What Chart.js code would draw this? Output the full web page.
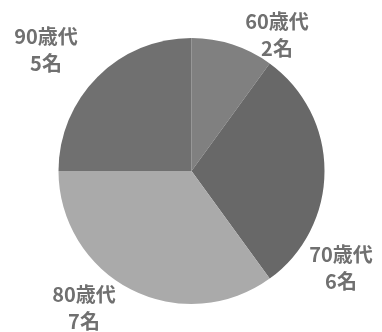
<!DOCTYPE html>
<html><head><meta charset="utf-8">
<script src="https://cdn.jsdelivr.net/npm/chart.js@4"></script>
<style>html,body{margin:0;padding:0;background:#fff;}#w{width:382px;height:332px;}</style>
</head><body><div id="w"><canvas id="c"></canvas></div>
<script>
const categories = ['60歳代', '70歳代', '80歳代', '90歳代'];
const counts = [2, 6, 7, 5];
const countLabels = ['2名', '6名', '7名', '5名'];
const sliceColors = ['#808080', '#686868', '#aaaaaa', '#707070'];
const labelSpots = [[277, 21], [341, 254], [84, 294], [46, 36]];

const labelPlugin = {
  id: 'sliceLabels',
  afterDraw(chart) {
    const ctx = chart.ctx;
    ctx.save();
    ctx.font = 'bold 20px "Noto Sans CJK JP", sans-serif';
    ctx.fillStyle = '#707070';
    ctx.textAlign = 'center';
    ctx.textBaseline = 'middle';
    categories.forEach((c, i) => {
      const [x, y] = labelSpots[i];
      ctx.fillText(c, x, y);
      ctx.fillText(countLabels[i], x, y + 27);
    });
    ctx.restore();
  }
};

new Chart(document.getElementById('c'), {
  type: 'pie',
  data: { labels: categories, datasets: [{ data: counts, backgroundColor: sliceColors, borderWidth: 0 }] },
  options: {
    responsive: true, maintainAspectRatio: false, animation: false,
    layout: { padding: { top: 38, bottom: 28, left: 58, right: 57 } },
    plugins: { legend: { display: false }, tooltip: { enabled: false } }
  },
  plugins: [labelPlugin]
});
</script></body></html>
